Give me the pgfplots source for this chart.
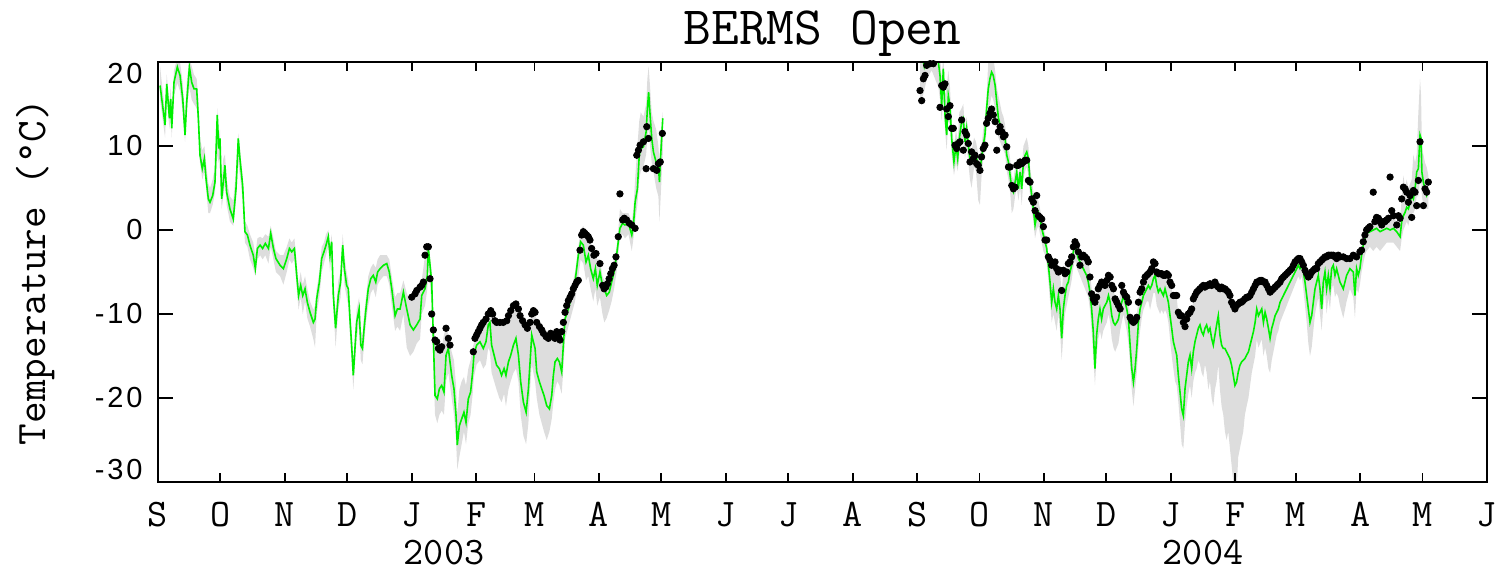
\documentclass[border=0pt]{standalone}
\usepackage{pgfplots}
\pgfplotsset{compat=1.18}
\usepackage{pgfplotstable}
\usepgfplotslibrary{fillbetween}
\usepackage{fontspec}
\newfontfamily\numsans[LetterSpace=10]{Liberation Sans}
\definecolor{bandgray}{RGB}{221,221,221}
\definecolor{airgreen}{RGB}{0,240,0}

% day since 1 Sep 2002, daily air temperature, lower and upper envelope
\pgfplotstableread{
d g lo hi
1.0 17.2 15.5 19.5
3.4 12.5 11.0 14.0
4.2 17.4 15.8 18.5
5.5 13.3 12.0 15.0
6.1 15.6 14.0 17.0
6.6 12.1 11.0 13.5
7.7 17.6 16.0 19.0
9.3 19.4 17.5 20.5
10.6 18.4 16.5 20.0
11.9 15.6 14.0 17.5
13.0 11.3 10.5 13.5
13.8 15.2 14.0 17.5
15.1 19.4 17.0 20.5
16.2 17.6 15.5 19.5
17.3 16.8 15.0 18.5
18.6 16.8 14.5 18.0
19.4 13.3 12.0 15.5
20.2 8.9 8.0 11.0
21.3 7.3 6.0 9.5
22.3 8.5 7.0 10.0
23.1 6.1 5.0 8.0
24.2 3.7 2.0 5.5
25.0 3.3 2.0 5.0
26.3 4.1 3.0 6.0
27.4 5.7 4.5 7.5
28.5 13.7 9.0 14.5
29.2 9.7 8.0 11.0
29.8 10.9 8.5 12.0
30.6 3.7 2.5 5.5
31.4 5.7 4.0 8.5
32.2 7.7 5.5 9.0
33.0 4.5 3.0 6.0
34.6 2.5 1.0 4.0
36.2 1.3 0.5 3.5
37.5 4.9 3.5 7.0
38.6 10.9 8.0 11.5
39.4 8.5 6.5 9.5
40.7 5.3 3.5 6.5
41.8 -0.2 -1.5 1.0
43.0 -0.6 -2.0 0.5
44.2 -1.8 -3.5 -0.5
45.8 -3.0 -4.5 -1.5
46.8 -4.6 -5.5 -3.0
47.8 -2.2 -3.5 -1.0
49.1 -1.8 -3.0 -0.8
50.3 -2.2 -3.5 -1.0
51.6 -1.6 -3.0 -0.5
53.1 -2.2 -4.0 -0.8
54.2 -0.4 -2.0 0.5
55.5 -2.2 -3.5 -1.0
56.7 -3.4 -5.0 -2.5
58.7 -4.2 -5.5 -3.0
60.3 -4.6 -6.5 -3.0
61.9 -3.4 -5.0 -2.0
63.2 -2.2 -3.5 -1.0
64.3 -2.6 -4.0 -1.5
65.6 -2.2 -3.5 -1.0
66.7 -5.4 -7.0 -4.0
67.6 -7.8 -9.5 -6.5
68.6 -6.6 -8.0 -5.0
69.6 -7.8 -10.0 -6.5
70.7 -7.0 -8.5 -5.5
71.8 -8.6 -10.5 -7.0
73.1 -9.8 -11.5 -8.5
74.7 -11.0 -13.0 -9.5
75.5 -10.6 -14.0 -9.0
76.3 -8.2 -10.0 -7.0
77.6 -6.2 -8.0 -5.0
78.7 -3.4 -5.0 -2.0
79.8 -2.6 -4.0 -1.5
80.8 -1.8 -3.0 -0.5
81.9 -0.8 -2.0 0.0
82.7 -3.0 -5.0 -2.0
83.5 -1.4 -3.0 -0.5
84.3 -7.8 -9.0 -6.0
85.4 -11.7 -14.0 -10.0
86.7 -7.8 -9.5 -6.0
87.8 -6.2 -8.0 -5.0
88.8 -1.8 -3.5 -0.5
89.6 -4.6 -6.5 -3.0
90.7 -6.6 -8.0 -5.0
91.5 -7.0 -9.0 -6.0
92.3 -10.6 -12.5 -9.0
93.1 -13.7 -15.5 -12.0
93.9 -17.3 -19.0 -15.5
94.7 -14.1 -16.0 -12.5
95.5 -11.0 -13.0 -9.5
96.7 -9.4 -11.0 -8.0
97.5 -13.7 -15.5 -12.0
98.3 -14.1 -16.0 -12.5
99.1 -11.7 -13.5 -10.0
100.0 -9.4 -11.0 -8.0
101.1 -7.0 -9.0 -5.5
102.3 -5.8 -7.5 -4.5
103.5 -5.4 -7.0 -4.0
104.7 -6.2 -8.0 -4.5
105.6 -5.0 -6.5 -3.5
106.8 -4.6 -6.0 -3.0
108.4 -4.2 -5.5 -3.0
110.0 -4.0 -5.5 -3.0
111.2 -5.0 -6.5 -3.5
112.4 -7.0 -9.0 -5.5
114.0 -10.2 -12.0 -8.0
115.1 -9.4 -11.5 -7.5
116.4 -9.4 -12.0 -7.5
118.0 -7.4 -10.0 -6.0
119.6 -9.4 -14.0 -7.5
121.2 -11.3 -15.0 -8.5
122.8 -11.9 -14.5 -7.5
124.4 -11.3 -13.5 -7.0
126.0 -10.6 -13.0 -6.5
126.8 -7.8 -10.0 -6.0
128.4 -7.0 -9.0 -3.0
129.5 -5.4 -7.0 -2.0
130.0 -2.2 -4.0 -1.5
131.6 -6.2 -9.0 -5.0
132.4 -12.9 -16.0 -11.0
133.2 -19.7 -22.0 -13.0
134.3 -20.1 -23.0 -13.5
135.3 -18.9 -22.0 -14.0
136.4 -18.5 -21.5 -14.0
137.5 -19.3 -22.0 -12.5
138.5 -14.9 -18.0 -11.5
139.6 -14.1 -17.0 -12.5
140.4 -15.7 -18.5 -13.5
141.2 -17.3 -20.0 -14.5
142.3 -18.9 -22.0 -15.5
143.3 -22.1 -25.0 -18.5
143.9 -25.6 -28.5 -22.0
144.9 -23.3 -27.0 -19.0
146.0 -22.5 -25.5 -18.0
147.1 -21.7 -24.0 -17.5
148.1 -22.9 -25.5 -18.5
149.2 -20.1 -23.0 -16.5
150.3 -19.3 -22.0 -15.5
151.3 -16.9 -19.5 -14.0
151.9 -14.9 -17.5 -13.5
153.2 -13.7 -16.0 -12.0
154.8 -13.3 -15.5 -11.5
156.4 -14.1 -16.5 -11.0
157.7 -13.3 -16.0 -10.5
158.8 -11.3 -14.0 -10.0
159.6 -11.0 -14.5 -9.5
160.4 -13.7 -17.0 -10.0
161.6 -14.9 -18.0 -10.8
162.8 -16.1 -19.0 -11.0
164.1 -16.5 -20.0 -11.0
165.2 -17.3 -20.5 -11.0
166.4 -16.5 -19.5 -11.0
167.3 -17.3 -21.0 -10.8
168.5 -15.7 -19.0 -10.2
169.6 -14.9 -18.0 -9.6
170.9 -13.7 -17.0 -9.0
172.1 -12.9 -16.5 -8.8
173.3 -14.9 -18.0 -9.4
174.4 -18.1 -22.0 -10.2
175.7 -20.5 -24.5 -10.8
177.0 -21.7 -25.5 -11.3
178.1 -18.9 -23.0 -11.7
178.9 -15.7 -19.0 -11.0
179.7 -12.5 -16.0 -10.0
180.5 -13.3 -17.0 -9.6
181.3 -14.1 -18.0 -9.8
182.1 -16.9 -20.0 -11.0
183.4 -18.1 -22.0 -11.5
184.5 -18.9 -23.0 -11.9
185.6 -19.7 -24.0 -12.3
186.9 -20.9 -25.0 -12.7
188.2 -21.3 -24.0 -12.9
189.3 -19.7 -22.5 -12.3
190.1 -17.3 -20.5 -12.7
190.9 -15.7 -19.0 -12.9
192.0 -15.3 -18.0 -12.1
193.0 -15.7 -18.5 -12.7
194.1 -16.9 -19.5 -12.1
194.9 -13.7 -16.5 -11.0
195.7 -10.6 -13.0 -9.8
197.3 -9.4 -11.5 -8.4
198.9 -7.8 -10.0 -7.0
200.5 -6.2 -8.5 -5.0
202.1 -3.0 -5.5 -2.0
203.2 -1.4 -3.5 0.0
204.5 -1.8 -4.0 0.5
205.8 -3.8 -6.0 -0.5
206.9 -3.0 -5.5 -0.8
208.0 -4.6 -7.0 -1.5
209.3 -5.8 -8.5 -2.5
210.3 -4.6 -7.0 -2.5
211.2 -6.6 -9.0 -3.5
212.5 -5.0 -8.0 -3.5
213.7 -6.6 -10.0 -5.5
214.6 -7.0 -11.0 -6.0
215.7 -7.8 -10.5 -6.0
217.0 -7.4 -9.5 -5.5
218.1 -6.2 -8.5 -4.5
219.3 -5.0 -7.0 -3.5
220.5 -3.0 -5.0 -2.0
221.3 -1.4 -3.0 0.0
222.1 0.2 -1.0 2.5
223.4 0.8 -0.5 2.0
224.5 0.6 -1.0 2.0
226.2 0.8 -0.5 2.0
227.8 -0.6 -2.5 1.0
228.6 0.6 -1.0 2.5
229.4 3.3 1.0 6.0
230.5 4.9 3.0 10.0
231.4 8.9 6.0 13.0
232.1 9.7 7.0 14.0
233.4 9.9 7.5 13.5
234.7 11.7 9.0 15.0
235.3 14.4 11.0 18.0
235.9 16.4 12.0 19.5
236.6 13.7 10.0 17.0
237.4 10.9 8.0 14.0
238.2 9.3 7.0 13.0
239.5 8.1 5.0 12.0
240.6 7.7 4.0 10.0
241.1 5.7 1.0 8.0
241.7 8.9 4.0 11.0
242.7 13.3 9.0 14.0
}\airfirst

\pgfplotstableread{
d g lo hi
366.4 22.0 15.0 24.0
368.4 19.5 16.5 23.0
369.6 21.0 18.0 24.0
372.0 23.0 19.0 25.0
375.2 20.0 17.0 23.0
376.0 18.4 15.5 21.0
376.8 14.8 13.0 18.0
377.6 19.2 16.0 21.0
378.4 13.7 12.0 16.0
379.2 11.3 9.5 17.0
380.0 16.0 13.0 19.0
380.8 14.8 12.5 17.0
381.6 10.9 9.0 13.0
382.7 8.1 6.5 10.0
383.7 10.1 8.0 12.0
384.5 8.5 7.0 10.5
385.3 10.9 9.0 14.0
386.4 12.9 10.5 14.5
387.2 13.3 11.0 15.0
388.0 10.5 8.5 12.0
388.8 12.1 10.0 13.5
389.6 10.1 8.0 11.5
390.4 8.5 6.0 10.0
391.2 8.1 5.0 9.5
392.4 9.3 7.5 11.0
393.3 8.9 7.0 10.5
394.4 7.7 3.5 9.0
395.2 7.3 3.0 9.0
396.0 8.5 6.5 10.0
396.8 10.1 8.5 12.0
397.6 11.3 9.5 13.5
398.4 14.4 12.0 16.0
399.2 16.8 14.0 20.0
400.0 18.0 15.0 21.0
400.8 18.8 16.0 21.0
401.6 18.4 15.5 20.5
402.5 17.2 14.5 19.0
403.3 15.2 12.5 17.0
404.1 13.3 11.0 16.0
404.9 12.5 10.5 15.0
405.7 12.1 10.0 14.0
406.5 11.7 9.5 13.5
407.3 10.9 9.0 12.5
408.1 8.9 7.0 10.5
408.9 8.1 6.0 10.0
409.7 6.5 4.5 8.5
410.5 4.9 2.0 6.5
411.3 4.5 2.5 6.0
412.1 5.7 4.0 7.5
412.9 6.9 5.0 8.5
413.7 4.9 3.5 6.5
414.5 6.9 5.0 8.0
415.3 4.9 3.0 7.0
416.1 8.1 6.0 10.0
416.9 8.9 7.0 10.5
417.7 9.3 7.5 11.0
418.5 8.5 6.5 10.0
419.3 5.7 4.0 7.5
420.1 4.1 2.5 6.0
420.9 2.5 1.0 4.5
421.7 0.6 -1.0 3.0
422.5 1.7 0.0 4.0
423.3 2.1 0.5 3.5
424.1 1.3 -0.5 2.5
424.9 0.2 -1.5 1.5
425.7 -0.6 -2.5 0.5
426.5 -1.4 -3.0 -0.5
427.3 -2.2 -4.0 -1.0
428.1 -4.2 -6.0 -3.0
428.9 -6.2 -8.5 -3.5
429.7 -8.6 -11.0 -4.0
430.5 -7.0 -10.0 -4.0
431.3 -8.6 -11.0 -4.0
432.1 -9.4 -12.0 -5.0
432.9 -7.8 -10.0 -5.0
433.7 -9.4 -12.0 -5.0
434.5 -12.9 -15.5 -7.5
435.3 -9.4 -12.5 -5.0
436.1 -7.8 -10.0 -5.0
436.9 -6.6 -9.0 -4.5
437.7 -6.2 -8.0 -4.0
438.5 -5.0 -7.0 -3.5
439.3 -4.2 -6.0 -3.0
440.1 -2.6 -4.5 -1.5
440.9 -1.8 -3.5 -1.0
441.7 -2.6 -4.5 -1.5
442.5 -3.4 -5.0 -2.0
443.3 -3.8 -5.5 -2.5
444.1 -4.2 -6.0 -2.5
444.9 -4.6 -6.5 -3.0
445.7 -5.0 -7.0 -3.0
446.5 -5.4 -7.5 -3.2
447.3 -6.2 -8.0 -3.5
448.1 -7.4 -9.5 -5.0
448.9 -9.4 -12.0 -7.0
449.7 -12.1 -15.0 -8.0
450.5 -16.5 -18.5 -8.5
451.3 -12.5 -15.0 -8.0
452.1 -10.6 -13.0 -7.0
452.9 -9.4 -12.0 -6.5
453.7 -10.6 -13.0 -6.0
454.5 -9.4 -12.0 -6.0
455.3 -9.0 -11.5 -6.5
456.2 -8.6 -11.0 -6.0
457.0 -7.8 -10.0 -5.5
457.8 -8.6 -11.0 -5.5
458.6 -10.2 -13.0 -6.5
459.4 -11.0 -14.0 -7.0
460.2 -11.3 -14.5 -8.0
461.0 -11.0 -14.0 -8.5
461.8 -10.6 -13.5 -9.0
462.6 -9.4 -12.0 -7.5
463.4 -8.6 -11.0 -6.5
464.2 -7.8 -10.0 -7.0
465.0 -8.6 -11.0 -7.5
465.8 -9.4 -12.0 -8.0
466.6 -10.6 -13.5 -8.5
467.4 -13.7 -16.0 -10.0
468.2 -16.5 -19.0 -10.5
469.0 -18.1 -21.0 -11.0
469.8 -16.5 -19.0 -10.5
470.6 -14.1 -17.0 -10.0
471.4 -11.0 -14.0 -8.5
472.2 -9.4 -12.0 -7.0
473.0 -8.6 -10.5 -6.5
473.8 -7.8 -9.5 -6.0
474.6 -7.4 -9.0 -5.5
475.4 -7.0 -8.5 -5.0
476.2 -6.6 -8.5 -5.0
477.0 -7.0 -9.5 -5.0
477.8 -6.6 -8.5 -4.5
478.6 -5.8 -7.5 -3.5
479.4 -5.4 -7.5 -4.0
480.2 -6.6 -9.0 -5.0
481.0 -7.4 -9.5 -5.0
481.8 -7.0 -10.0 -5.0
482.6 -7.4 -9.5 -5.0
483.4 -7.8 -10.0 -5.2
484.2 -7.0 -9.5 -5.2
485.0 -7.8 -10.0 -5.0
485.8 -8.6 -11.0 -5.5
486.6 -10.2 -13.0 -6.5
487.4 -11.7 -15.0 -7.0
488.2 -13.3 -16.5 -8.0
489.0 -14.1 -18.0 -8.0
489.8 -14.9 -18.5 -8.0
490.6 -17.3 -20.5 -10.0
491.4 -19.3 -23.0 -10.5
492.2 -21.3 -25.5 -10.5
493.0 -22.1 -26.0 -11.0
493.8 -18.9 -23.0 -11.5
494.6 -17.3 -21.0 -11.0
495.4 -15.7 -19.5 -10.0
496.2 -14.9 -18.5 -10.0
497.0 -16.5 -20.0 -9.5
497.8 -14.5 -18.0 -8.5
498.6 -13.3 -17.0 -8.0
499.4 -12.5 -16.5 -7.5
500.2 -11.7 -15.5 -7.2
501.0 -11.3 -16.0 -7.0
501.8 -12.1 -17.0 -6.8
502.6 -12.5 -17.5 -6.6
503.4 -11.7 -16.0 -6.8
504.2 -11.3 -17.0 -6.6
505.0 -12.1 -19.0 -6.6
505.8 -11.7 -18.0 -6.4
506.6 -12.9 -20.0 -6.6
507.4 -13.7 -21.0 -6.4
508.2 -12.5 -19.0 -6.2
509.0 -11.3 -18.0 -6.6
509.8 -10.2 -16.0 -6.8
510.6 -12.5 -19.0 -7.0
511.4 -13.7 -21.0 -6.8
512.2 -14.1 -22.0 -7.0
513.0 -14.1 -24.0 -7.0
513.8 -14.5 -25.0 -7.2
514.6 -14.9 -24.0 -7.4
515.4 -15.3 -26.0 -7.8
516.2 -16.1 -28.0 -8.6
517.0 -17.3 -30.0 -9.0
517.8 -18.5 -31.5 -9.4
518.6 -18.1 -31.0 -9.0
519.4 -16.9 -27.0 -8.8
520.2 -16.1 -26.0 -8.6
521.0 -15.7 -25.0 -8.6
521.8 -15.5 -24.0 -8.4
522.6 -15.3 -22.0 -8.2
523.4 -14.9 -21.0 -8.0
524.3 -14.5 -20.0 -8.0
525.1 -13.7 -18.5 -7.8
525.9 -12.9 -17.0 -7.4
526.7 -12.1 -16.0 -7.0
527.5 -11.0 -15.0 -6.6
528.3 -9.4 -13.0 -6.2
529.1 -10.2 -14.0 -6.2
529.9 -9.8 -13.5 -6.0
530.7 -9.4 -13.0 -6.0
531.5 -11.0 -15.0 -6.2
532.3 -9.8 -14.0 -6.2
533.1 -10.6 -15.0 -6.6
533.9 -11.7 -16.5 -7.0
534.7 -12.9 -17.0 -7.4
535.5 -11.7 -15.5 -7.2
536.3 -11.0 -14.5 -7.0
537.1 -10.2 -13.5 -6.8
537.9 -9.8 -12.5 -6.6
538.7 -9.4 -12.0 -6.4
539.5 -8.6 -11.0 -6.2
540.3 -8.2 -10.5 -5.8
541.1 -7.8 -10.0 -5.6
541.9 -7.4 -9.5 -5.4
542.7 -7.0 -9.0 -5.2
543.5 -6.6 -8.5 -5.0
544.3 -6.2 -8.0 -4.8
545.1 -5.8 -7.5 -4.6
545.9 -5.4 -7.0 -4.2
546.7 -5.0 -6.5 -3.8
547.5 -4.6 -6.0 -3.6
548.3 -4.2 -5.5 -3.4
549.1 -4.6 -6.0 -3.4
549.9 -4.2 -5.5 -3.6
550.7 -5.0 -7.0 -4.0
551.5 -6.2 -9.0 -4.5
552.3 -7.8 -11.0 -5.0
553.1 -9.4 -13.5 -5.5
553.9 -11.0 -15.0 -5.5
554.7 -10.2 -14.0 -5.0
555.5 -8.6 -12.0 -4.8
556.3 -7.0 -10.0 -4.6
557.1 -6.2 -9.0 -4.5
557.9 -5.4 -8.0 -4.0
558.7 -7.0 -10.0 -3.8
559.5 -9.4 -12.0 -3.6
560.3 -6.2 -9.0 -3.4
561.1 -5.0 -7.5 -3.2
561.9 -7.0 -10.0 -3.2
562.7 -5.4 -8.0 -3.0
563.5 -7.0 -9.5 -3.0
564.3 -4.6 -7.0 -3.0
565.1 -4.2 -6.5 -3.0
565.9 -5.4 -8.0 -3.2
566.7 -4.6 -7.5 -3.4
567.5 -5.4 -8.0 -3.0
568.3 -6.2 -9.0 -3.2
569.9 -7.0 -10.5 -3.2
571.5 -5.4 -8.5 -3.4
573.1 -4.6 -7.0 -3.4
574.7 -5.0 -8.0 -3.0
575.5 -7.8 -10.5 -3.2
576.3 -4.6 -7.0 -3.2
577.1 -5.4 -7.5 -2.8
577.9 -4.6 -6.5 -2.6
578.7 -3.0 -5.0 -2.4
579.5 -1.8 -4.0 -1.4
580.3 -1.0 -3.0 -0.6
581.1 -0.4 -2.5 0.0
582.7 -0.2 -2.0 0.4
584.3 0.0 -2.5 1.5
585.9 0.2 -2.0 1.5
587.6 -0.2 -2.5 1.0
589.2 0.0 -2.0 1.0
590.8 0.2 -1.5 1.2
592.4 0.0 -1.5 1.5
594.0 0.2 -1.5 1.7
595.6 -0.2 -2.0 0.8
597.2 -0.8 -2.5 1.4
598.0 1.0 -1.0 3.7
598.8 1.7 0.0 6.5
599.6 2.1 0.5 5.0
600.4 2.7 1.0 6.0
601.2 2.5 0.5 5.0
602.0 3.3 1.5 5.5
602.8 4.1 2.0 6.0
603.6 3.7 2.0 9.0
604.4 4.9 2.5 8.0
605.2 6.9 4.0 9.0
606.0 7.3 4.0 14.0
606.8 11.3 6.0 18.0
607.3 10.9 6.0 16.0
607.7 6.9 4.0 10.0
608.4 5.7 3.0 9.0
609.2 4.9 3.0 8.0
610.0 4.1 2.5 7.5
610.8 4.5 2.5 6.5
}\airsecond

% surface temperature, same day axis
\pgfplotstableread{
d t
122.0 -8.0
123.6 -7.6
124.4 -7.2
126.0 -6.8
126.8 -6.6
127.6 -6.2
128.4 -3.0
129.2 -2.0
130.0 -2.0
130.8 -5.8
131.6 -10.0
132.4 -11.9
133.2 -13.1
134.0 -13.3
134.8 -14.1
135.6 -14.3
136.4 -13.9
138.5 -11.7
139.6 -12.9
140.4 -13.7
151.6 -14.5
152.4 -12.9
153.2 -12.5
154.0 -12.1
154.8 -11.7
155.6 -11.3
156.4 -11.0
157.7 -10.6
158.8 -10.0
160.0 -9.6
160.9 -10.0
162.0 -10.8
162.8 -11.0
164.4 -11.0
166.0 -11.0
167.7 -10.8
168.5 -10.2
169.6 -9.6
170.9 -9.0
172.1 -8.8
173.3 -9.4
174.1 -10.2
175.3 -10.8
176.5 -11.3
177.6 -11.7
178.9 -11.0
179.7 -10.0
180.5 -9.6
181.3 -9.8
182.1 -11.0
183.4 -11.5
184.5 -11.9
185.3 -12.3
186.6 -12.7
187.7 -12.9
188.8 -12.3
190.1 -12.7
190.9 -12.9
191.7 -12.1
192.5 -12.7
193.3 -13.1
194.1 -12.1
194.9 -11.0
195.7 -9.8
196.5 -9.0
197.3 -8.4
198.1 -8.0
198.9 -7.6
199.7 -7.0
200.5 -6.6
201.3 -6.2
202.1 -6.0
202.9 -2.4
203.7 -0.6
204.5 -0.2
205.3 -0.4
206.1 -0.6
206.9 -0.8
207.7 -1.2
208.5 -2.2
209.6 -3.0
210.6 -2.8
212.5 -4.0
213.8 -6.6
214.5 -7.0
215.3 -6.8
216.1 -6.4
216.9 -5.8
217.7 -5.2
218.5 -4.6
219.3 -4.2
220.2 -3.2
221.3 -0.8
222.1 4.3
223.4 1.2
224.2 1.4
225.3 1.2
226.6 0.8
227.8 0.6
229.4 0.2
230.2 8.9
231.0 9.5
231.8 10.1
233.4 10.5
234.7 7.3
235.0 12.3
235.8 10.9
238.2 7.3
239.8 7.1
240.6 7.9
241.5 8.1
242.5 11.5
366.4 16.6
367.2 15.4
368.0 18.0
368.8 18.4
369.6 19.6
371.2 19.8
372.8 19.8
376.0 14.6
376.8 17.2
377.6 17.0
378.4 17.4
379.2 14.4
380.0 13.5
380.8 14.8
381.6 12.1
382.4 12.1
383.2 10.1
384.0 9.7
384.8 10.3
385.6 10.5
386.4 13.1
387.2 9.5
388.0 11.7
388.8 11.3
389.6 10.3
390.4 8.1
391.2 9.3
392.0 8.5
392.8 8.9
393.6 7.9
394.4 7.7
395.2 7.1
396.0 8.7
396.8 9.7
397.6 10.1
398.4 12.7
399.2 13.3
400.0 13.9
400.8 14.4
401.6 13.7
402.5 12.9
403.3 9.5
404.1 11.7
404.9 12.3
405.7 11.7
406.5 11.1
407.3 11.3
408.1 9.9
408.9 7.5
409.7 7.5
410.5 5.3
411.3 4.9
412.1 5.1
412.9 7.7
413.7 7.7
414.5 8.1
415.3 7.9
416.1 8.1
416.9 8.3
417.7 8.3
418.5 5.9
419.3 5.7
420.1 3.7
420.9 3.3
421.7 2.3
422.5 4.1
423.3 1.7
424.1 1.5
424.9 1.3
425.7 0.4
426.5 -1.2
427.3 -1.2
428.1 -3.2
428.9 -3.6
429.7 -4.2
430.5 -4.0
431.3 -3.8
432.1 -4.6
432.9 -5.0
433.7 -4.8
434.5 -7.2
435.3 -4.8
436.1 -5.2
436.9 -5.0
437.7 -4.0
438.5 -3.8
439.3 -3.2
440.1 -2.0
440.9 -1.4
441.7 -1.8
442.5 -2.6
443.3 -4.2
444.1 -3.2
444.9 -3.0
445.7 -3.2
446.5 -3.4
447.3 -3.8
448.1 -5.6
448.9 -7.6
449.7 -8.2
450.5 -8.6
451.3 -8.0
452.1 -7.0
452.9 -6.6
453.7 -6.2
454.5 -6.4
455.3 -6.6
456.2 -6.0
457.0 -5.4
457.8 -5.6
458.6 -6.6
459.4 -7.0
460.2 -8.2
461.0 -8.6
461.8 -9.0
462.6 -9.4
463.4 -6.6
464.2 -7.4
465.0 -7.8
465.8 -8.0
466.6 -8.6
467.4 -10.4
468.2 -10.8
469.0 -11.0
469.8 -10.8
470.6 -10.4
471.4 -8.6
472.2 -7.4
473.0 -7.0
473.8 -6.2
474.6 -5.6
475.4 -5.4
476.2 -5.2
477.0 -5.0
477.8 -4.6
478.6 -3.8
479.4 -4.0
480.2 -5.0
481.0 -5.2
481.8 -5.2
482.6 -5.2
483.4 -5.4
484.2 -5.4
485.0 -5.2
485.8 -5.4
486.6 -6.2
487.4 -6.6
488.2 -7.8
489.0 -7.8
489.8 -7.8
490.6 -9.8
491.4 -10.2
492.2 -10.2
493.0 -11.0
493.8 -11.5
494.6 -10.6
495.4 -10.0
496.2 -9.8
497.0 -9.4
497.8 -8.2
498.6 -7.8
499.4 -7.4
500.2 -7.2
501.0 -7.0
501.8 -6.8
502.6 -6.6
503.4 -6.8
504.2 -6.6
505.0 -6.6
505.8 -6.4
506.6 -6.6
507.4 -6.4
508.2 -6.2
509.0 -6.6
509.8 -6.8
510.6 -7.0
511.4 -6.8
512.2 -7.0
513.0 -7.0
513.8 -7.2
514.6 -7.4
515.4 -7.8
516.2 -8.6
517.0 -9.0
517.8 -9.4
518.6 -9.0
519.4 -8.8
520.2 -8.6
521.0 -8.6
521.8 -8.4
522.6 -8.2
523.4 -8.0
524.3 -8.0
525.1 -7.8
525.9 -7.4
526.7 -7.0
527.5 -6.6
528.3 -6.2
529.1 -6.2
529.9 -6.0
530.7 -6.0
531.5 -6.2
532.3 -6.2
533.1 -6.6
533.9 -7.0
534.7 -7.4
535.5 -7.2
536.3 -7.0
537.1 -6.8
537.9 -6.6
538.7 -6.4
539.5 -6.2
540.3 -5.8
541.1 -5.6
541.9 -5.4
542.7 -5.2
543.5 -5.0
544.3 -4.8
545.1 -4.6
545.9 -4.2
546.7 -3.8
547.5 -3.6
548.3 -3.4
549.1 -3.4
549.9 -3.8
550.7 -4.2
551.5 -4.8
552.3 -5.2
553.1 -5.6
553.9 -5.4
554.7 -5.0
555.5 -4.8
556.3 -4.6
557.1 -4.6
557.9 -4.0
558.7 -3.8
559.5 -3.6
560.3 -3.4
561.1 -3.2
561.9 -3.2
562.7 -3.0
563.5 -3.0
564.3 -3.0
565.1 -3.0
565.9 -3.2
566.7 -3.4
567.5 -3.0
568.3 -3.2
569.9 -3.2
571.5 -3.4
573.1 -3.4
574.7 -3.0
576.3 -3.2
577.9 -2.6
578.7 -2.4
579.5 -1.4
580.3 -0.6
581.1 0.0
581.9 0.2
582.7 0.4
584.3 4.5
585.1 1.0
585.9 1.5
586.8 1.4
587.6 1.0
588.4 0.6
589.2 1.0
590.0 1.0
590.8 1.2
591.6 1.4
592.4 6.3
593.2 2.3
594.0 1.7
595.6 0.6
596.4 1.7
597.2 1.4
598.0 3.7
598.8 5.1
599.6 4.9
600.4 4.5
601.2 3.3
602.0 4.1
602.8 1.5
603.6 4.7
604.4 4.5
605.2 2.9
606.0 5.9
606.8 10.5
608.4 2.9
609.2 4.9
610.0 4.5
610.8 5.7
}\surface

\begin{document}
\begin{tikzpicture}
\begin{axis}[
  at={(0pt,0pt)}, anchor=south west,
  scale only axis, width=664.5pt, height=210pt,
  xmin=0, xmax=639, ymin=-30, ymax=20,
  xtick={0,30,61,91,122,153,181,212,242,273,303,334,365,395,426,456,487,518,547,578,608,639},
  xticklabels={S,O,N,D,J,F,M,A,M,J,J,A,S,O,N,D,J,F,M,A,M,J},
  ytick={-30,-20,-10,0,10,20},
  yticklabels={,-20,-10,0,10,},
  tick align=inside,
  xtick style={/pgfplots/major tick length=4.5pt},
  ytick style={/pgfplots/major tick length=7.5pt},
  every tick/.append style={black, line width=0.9pt},
  axis line style={line width=1pt},
  xticklabel style={font=\ttfamily\fontsize{19.5}{20}\selectfont, anchor=base, yshift=-22.5pt, inner sep=0pt},
  yticklabel style={font=\numsans\fontsize{14.5}{15}\selectfont, anchor=east, inner sep=0pt, xshift=-7.5pt},
  axis on top,
  clip=true,
]
% envelope of the air temperature
\addplot[draw=none, name path=hiA] table[x=d, y=hi] {\airfirst};
\addplot[draw=none, name path=loA] table[x=d, y=lo] {\airfirst};
\addplot[fill=bandgray, draw=none] fill between[of=hiA and loA];
\addplot[draw=none, name path=hiB] table[x=d, y=hi] {\airsecond};
\addplot[draw=none, name path=loB] table[x=d, y=lo] {\airsecond};
\addplot[fill=bandgray, draw=none] fill between[of=hiB and loB];
% daily air temperature
\addplot[airgreen, line width=0.8pt, mark=none] table[x=d, y=g] {\airfirst};
\addplot[airgreen, line width=0.8pt, mark=none] table[x=d, y=g] {\airsecond};
% surface temperature
\addplot[only marks, mark=*, mark size=1.6pt, black] table[x=d, y=t] {\surface};
\end{axis}
% end labels of the temperature scale sit inside the frame height
\node[anchor=north east, inner sep=0pt, font=\numsans\fontsize{14.5}{15}\selectfont] at (-7.5pt,209.5pt) {20};
\node[anchor=south east, inner sep=0pt, font=\numsans\fontsize{14.5}{15}\selectfont] at (-7.5pt,1pt) {-30};
\node[anchor=base, font=\ttfamily\fontsize{27}{28}\selectfont] at (332.25pt,218.5pt) {BERMS Open};
\node[anchor=base, font=\ttfamily\fontsize{19.5}{20}\selectfont] at (143pt,-41.5pt) {2003};
\node[anchor=base, font=\ttfamily\fontsize{19.5}{20}\selectfont] at (522.5pt,-41.5pt) {2004};
\node[rotate=90, font=\ttfamily\fontsize{21}{22}\selectfont] at (-61pt,105pt) {Temperature (°C)};
\path (-79pt,-45.5pt) rectangle (671.5pt,241pt);
\end{tikzpicture}
\end{document}
